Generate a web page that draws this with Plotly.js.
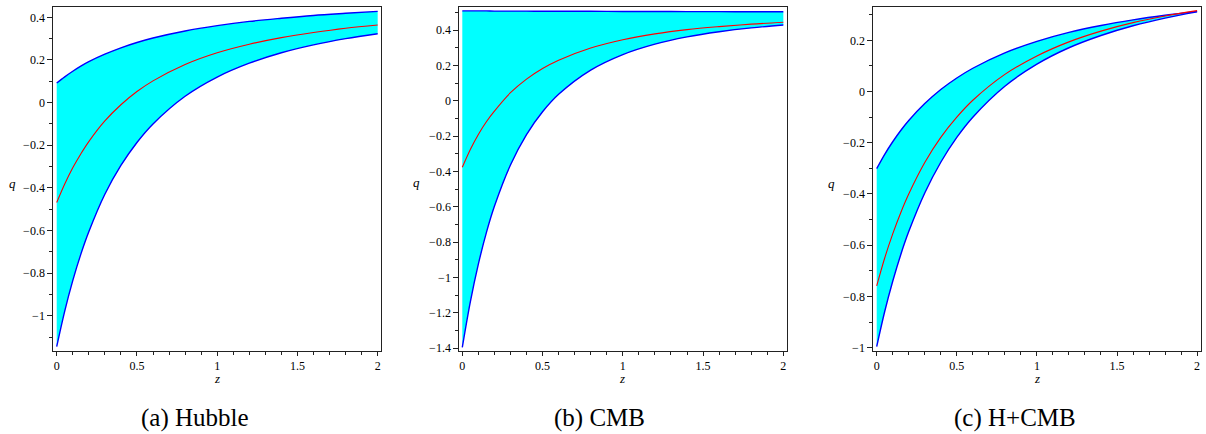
<!DOCTYPE html>
<html>
<head>
<meta charset="utf-8">
<script src="https://cdn.plot.ly/plotly-3.0.1.min.js"></script>
<style>
  html, body { margin: 0; padding: 0; background: #fff; }
  #chart { width: 1206px; height: 434px; }
</style>
</head>
<body>
<div id="chart"></div>
<script>
// Redshift samples
const z = [0, 0.05, 0.1, 0.15, 0.2, 0.3, 0.4, 0.5, 0.6, 0.8, 1.0, 1.2, 1.4, 1.6, 1.8, 2.0];

// (a) Hubble
const hubbleUpper = [0.092, 0.121, 0.147, 0.171, 0.192, 0.227, 0.257, 0.282, 0.303, 0.336, 0.361, 0.381, 0.396, 0.409, 0.419, 0.428];
const hubbleBest  = [-0.469, -0.382, -0.306, -0.241, -0.183, -0.086, -0.010, 0.052, 0.102, 0.179, 0.234, 0.274, 0.305, 0.329, 0.349, 0.364];
const hubbleLower = [-1.145, -0.978, -0.835, -0.712, -0.606, -0.43, -0.295, -0.187, -0.10, 0.03, 0.12, 0.185, 0.234, 0.271, 0.30, 0.323];

// (b) CMB
const cmbUpper = [0.508, 0.508, 0.508, 0.508, 0.507, 0.507, 0.507, 0.506, 0.506, 0.506, 0.505, 0.505, 0.504, 0.504, 0.503, 0.503];
const cmbBest  = [-0.377, -0.276, -0.191, -0.119, -0.059, 0.045, 0.122, 0.182, 0.229, 0.298, 0.345, 0.378, 0.402, 0.419, 0.433, 0.444];
const cmbLower = [-1.396, -1.138, -0.925, -0.747, -0.598, -0.364, -0.192, -0.063, 0.036, 0.173, 0.261, 0.320, 0.361, 0.390, 0.412, 0.428];

// (c) H+CMB
const hcUpper = [-0.301, -0.245, -0.196, -0.152, -0.113, -0.047, 0.008, 0.053, 0.091, 0.151, 0.196, 0.231, 0.258, 0.280, 0.298, 0.313];
const hcBest  = [-0.759, -0.650, -0.556, -0.473, -0.400, -0.277, -0.179, -0.100, -0.034, 0.067, 0.139, 0.194, 0.236, 0.269, 0.295, 0.316];
const hcLower = [-0.996, -0.859, -0.741, -0.637, -0.547, -0.396, -0.276, -0.179, -0.100, 0.021, 0.107, 0.171, 0.219, 0.257, 0.287, 0.311];

const captions = ["(a) Hubble", "(b) CMB", "(c) H+CMB"];
const xTitle = "z";
const yTitle = "q";

const panels = [
  {upper: hubbleUpper, best: hubbleBest, lower: hubbleLower},
  {upper: cmbUpper, best: cmbBest, lower: cmbLower},
  {upper: hcUpper, best: hcBest, lower: hcLower}
];

const BLUE = "#0000ff", RED = "#ff0000", CYAN = "#00ffff";
const W = 1206, H = 434;

const traces = [];
panels.forEach((p, i) => {
  const xa = i === 0 ? "x" : "x" + (i + 1);
  const ya = i === 0 ? "y" : "y" + (i + 1);
  traces.push({x: z, y: p.lower, xaxis: xa, yaxis: ya, type: "scatter", mode: "lines",
    line: {color: BLUE, width: 1.4, shape: "spline", smoothing: 1}, hoverinfo: "skip", showlegend: false});
  traces.push({x: z, y: p.upper, xaxis: xa, yaxis: ya, type: "scatter", mode: "lines", fill: "tonexty",
    fillcolor: CYAN, line: {color: BLUE, width: 1.4, shape: "spline", smoothing: 1}, hoverinfo: "skip", showlegend: false});
  traces.push({x: z, y: p.best, xaxis: xa, yaxis: ya, type: "scatter", mode: "lines",
    line: {color: RED, width: 1.1, shape: "spline", smoothing: 1}, hoverinfo: "skip", showlegend: false});
});

// pixel geometry of each frame (left, right, top, bottom) and axis ranges
const frames = [
  {l: 53.3, r: 381.0, t: 6.7, b: 350.7, xr: [-0.0212, 2.0206], yr: [-1.164, 0.45]},
  {l: 459.3, r: 786.7, t: 7.3, b: 350.7, xr: [-0.0187, 2.021], yr: [-1.415, 0.5285]},
  {l: 873.3, r: 1200.7, t: 7.3, b: 350.7, xr: [-0.0212, 2.0225], yr: [-1.012, 0.329]}
];

const SERIF = "Liberation Serif";
const font = {family: SERIF, size: 12, color: "#000"};
const layout = {
  width: W, height: H,
  margin: {l: 0, r: 0, t: 0, b: 0},
  paper_bgcolor: "#fff", plot_bgcolor: "#fff",
  font: font,
  showlegend: false,
  annotations: []
};

const axisCommon = {
  showgrid: false, zeroline: false, showline: true, mirror: true,
  linecolor: "#222", linewidth: 1,
  ticks: "outside", tickcolor: "#222", tickwidth: 1,
  tickfont: font, fixedrange: true
};

frames.forEach((f, i) => {
  const sx = i === 0 ? "" : String(i + 1);
  layout["xaxis" + sx] = Object.assign({}, axisCommon, {
    domain: [f.l / W, f.r / W], range: f.xr, anchor: "y" + sx,
    tick0: 0, dtick: 0.5, ticklen: 4,
    minor: {ticks: "outside", dtick: 0.1, tick0: 0, ticklen: 3, tickcolor: "#222", showgrid: false}
  });
  layout["yaxis" + sx] = Object.assign({}, axisCommon, {
    domain: [1 - f.b / H, 1 - f.t / H], range: f.yr, anchor: "x" + sx,
    tick0: 0, dtick: 0.2, ticklen: 5,
    minor: {ticks: "outside", dtick: 0.1, tick0: 0, ticklen: 3, tickcolor: "#222", showgrid: false}
  });
});

// axis titles and captions (positions in pixels)
const qPos = [[12.2, 183], [416.7, 182.7], [831.7, 183]];
const zPos = [[216.7, 378.3], [622, 378], [1036.7, 378]];
const capPos = [[195, 418], [599, 418], [1015, 418]];
for (let i = 0; i < 3; i++) {
  layout.annotations.push({xref: "paper", yref: "paper", x: qPos[i][0] / W, y: 1 - qPos[i][1] / H,
    text: "<i>" + yTitle + "</i>", showarrow: false, xanchor: "center", yanchor: "middle",
    font: {family: SERIF, size: 13, color: "#000"}});
  layout.annotations.push({xref: "paper", yref: "paper", x: zPos[i][0] / W, y: 1 - zPos[i][1] / H,
    text: "<i>" + xTitle + "</i>", showarrow: false, xanchor: "center", yanchor: "middle",
    font: {family: SERIF, size: 13, color: "#000"}});
  layout.annotations.push({xref: "paper", yref: "paper", x: capPos[i][0] / W, y: 1 - capPos[i][1] / H,
    text: captions[i], showarrow: false, xanchor: "center", yanchor: "middle",
    font: {family: SERIF, size: 25, color: "#000"}});
}

Plotly.newPlot("chart", traces, layout, {staticPlot: true, displayModeBar: false});
</script>
</body>
</html>
